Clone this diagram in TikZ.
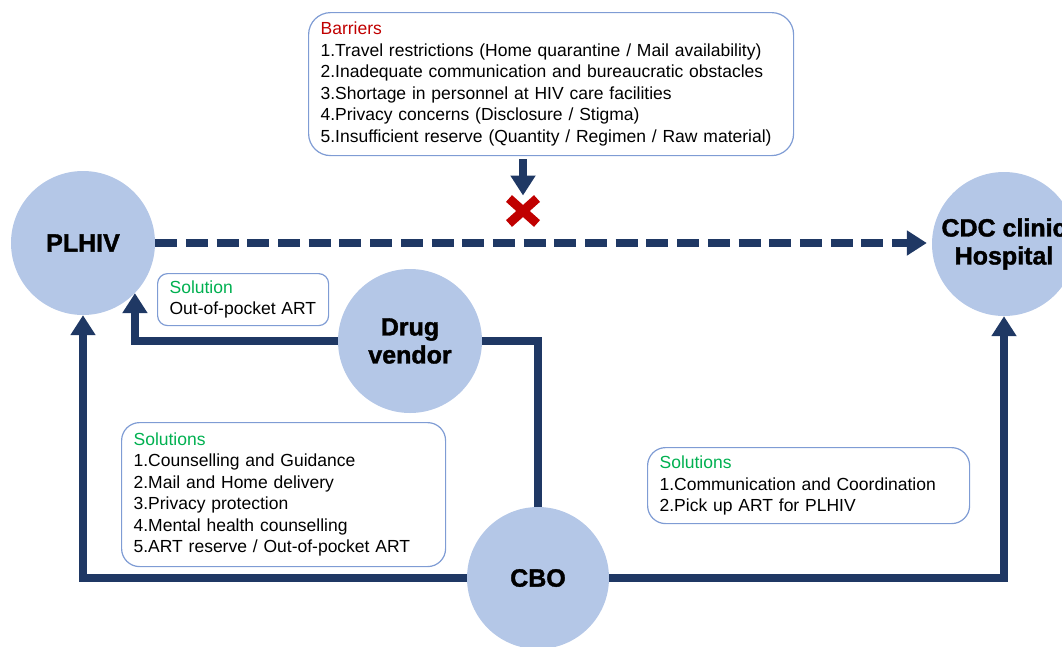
\documentclass[tikz,border=0pt]{standalone}
\usepackage{fontspec}
\setmainfont{Liberation Sans}
\usetikzlibrary{arrows.meta,shapes.misc}
\definecolor{navy}{HTML}{1F3864}
\definecolor{disc}{HTML}{B4C7E7}
\definecolor{edge}{HTML}{7F9CD4}
\definecolor{barred}{HTML}{C00000}
\definecolor{solgreen}{HTML}{00B050}
\newcommand\partyfont{\fontsize{25}{28}\selectfont\bfseries\addfontfeature{FakeBold=1.5}}
\newcommand\boxfont{\fontsize{17.5}{21.5}\selectfont}
\newcommand\headline[2]{\textcolor{#1}{#2}}
\tikzset{
  party/.style={circle,fill=disc,minimum size=144pt,inner sep=0pt,align=center,font=\partyfont},
  infobox/.style={draw=edge,line width=1.2pt,rounded corners=18pt,anchor=north west,
    align=left,inner xsep=12pt,font=\boxfont},
  flow/.style={draw=navy,line width=7.5pt,-{Triangle[width=24pt,length=20pt]}},
  link/.style={draw=navy,line width=7.5pt},
}
\begin{document}
\begin{tikzpicture}[x=1pt,y=-1pt]
        \path[use as bounding box,clip] (0,0) rectangle (1062,646);
        % The parties
        \node[party] (plhiv) at (83,243) {PLHIV};
        \node[party] (cdc) at (1004,244) {CDC clinic\\Hospital};
        \node[party] (vendor) at (410,341) {Drug\\vendor};
        \node[party,minimum size=142pt] (cbo) at (538,578) {CBO};

        % The barriers
        \node[infobox,text width=461pt,minimum height=143pt,rounded corners=22pt] (barriers) at (308,12) {
          \headline{barred}{Barriers}\\
          1.Travel restrictions (Home quarantine / Mail availability)\\
          2.Inadequate communication and bureaucratic obstacles\\
          3.Shortage in personnel at HIV care facilities\\
          4.Privacy concerns (Disclosure / Stigma)\\
          5.Insufficient reserve (Quantity / Regimen / Raw material)};
        \node[cross out,draw=barred,line width=9pt,minimum width=19pt,minimum height=16pt] (cross) at (523,211) {};
        \draw[flow,shorten <=3pt,shorten >=3pt] (cross.north |- barriers.south) -- (cross.north);
        \draw[flow,dash pattern=on 22pt off 8.7pt,shorten >=5pt] (plhiv.east) -- (cdc.west |- plhiv.east);

        % The solutions
        \node[infobox,text width=147pt,minimum height=52pt,rounded corners=10pt] (soldrug) at (157,273) {
          \headline{solgreen}{Solution}\\
          Out-of-pocket ART};
        \node[infobox,text width=300pt,minimum height=144pt] (solcbo) at (121,422) {
          \headline{solgreen}{Solutions}\\
          1.Counselling and Guidance\\
          2.Mail and Home delivery\\
          3.Privacy protection\\
          4.Mental health counselling\\
          5.ART reserve / Out-of-pocket ART};
        \node[infobox,text width=298pt,minimum height=76pt] (solcdc) at (647,447) {
          \headline{solgreen}{Solutions}\\
          1.Communication and Coordination\\
          2.Pick up ART for PLHIV};

        % The connectors
        \draw[link] (cbo.north) |- (vendor.east);
        \draw[flow] (vendor.west) -| (plhiv.-44);
        \draw[flow] (cbo.west) -| (plhiv.south);
        \draw[flow] (cbo.east) -| (cdc.south);
\end{tikzpicture}
\end{document}
